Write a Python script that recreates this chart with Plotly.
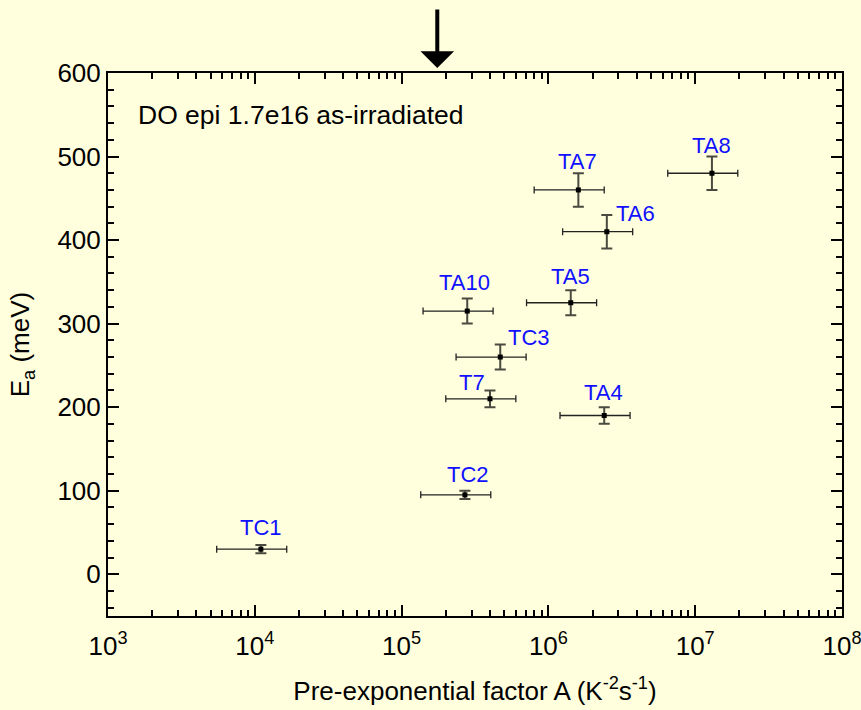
import numpy as np
import plotly.graph_objects as go

# ---- data ----
labels = ["TC1", "TC2", "T7", "TC3", "TA10", "TA5", "TA4", "TA6", "TA7", "TA8"]
A_vals = [1.1e4, 2.7e5, 4.0e5, 4.7e5, 2.8e5, 1.42e6, 2.4e6, 2.5e6, 1.6e6, 1.3e7]
A_err = [5.5e3, 1.35e5, 2.0e5, 2.35e5, 1.4e5, 7.1e5, 1.2e6, 1.25e6, 8.0e5, 6.5e6]
Ea_vals = [30, 95, 210, 260, 315, 325, 190, 410, 460, 480]
Ea_err = [5, 5, 10, 15, 15, 15, 10, 20, 20, 20]
arrow_A = 1.75e5
x_tick_exps = [3, 4, 5, 6, 7, 8]
y_ticks = [0, 100, 200, 300, 400, 500, 600]

# label offsets (px, relative to point) - styling
label_dx = [0, 3, -18, 29, -3, 0, -1, 29, -1, 0]
label_dy = [22, 20, 16, 20, 29, 26, 23, 18, 28, 28]

BG = "#FFFFDD"
FONT = "Liberation Sans, Arial, sans-serif"

fig = go.Figure()
fig.add_trace(go.Scatter(
    x=A_vals, y=Ea_vals, mode="markers",
    marker=dict(symbol="square", size=5, color="black"),
    error_x=dict(type="data", array=A_err, color="#222222", thickness=1.3, width=3.5),
    error_y=dict(type="data", array=Ea_err, color="#4a4a40", thickness=2, width=5.5),
    showlegend=False, hoverinfo="skip",
))

for lab, a, e, dx, dy in zip(labels, A_vals, Ea_vals, label_dx, label_dy):
    fig.add_annotation(x=np.log10(a), y=e, xref="x", yref="y", text=lab,
                       showarrow=False, xshift=dx, yshift=dy,
                       font=dict(family=FONT, size=22, color="#1010FF"))

fig.add_annotation(x=0.038, y=0.9227, xref="paper", yref="paper",
                   text="DO epi 1.7e16 as-irradiated", showarrow=False,
                   xanchor="left", yanchor="middle",
                   font=dict(family=FONT, size=26.5, color="black"))

fig.add_annotation(x=np.log10(arrow_A), y=1, xref="x", yref="paper", yshift=5,
                   text="", showarrow=True, ax=0, ay=-60,
                   arrowhead=1, arrowsize=1.4, arrowwidth=4, arrowcolor="black")

minor_x = [m * 10 ** k for k in range(3, 8) for m in range(2, 10)]

axis_common = dict(showgrid=False, zeroline=False, showline=True, linecolor="black",
                   linewidth=2, mirror="allticks", ticks="inside", ticklen=11,
                   tickwidth=2, tickcolor="black", automargin=False,
                   ticklabeloverflow="allow",
                   tickfont=dict(family=FONT, size=26, color="black"))

fig.update_xaxes(type="log", range=[3, 8],
                 tickvals=[10 ** k for k in x_tick_exps],
                 ticktext=[f"10<sup>{k}</sup>" for k in x_tick_exps],
                 ticklabelstandoff=6,
                 minor=dict(tickvals=minor_x, ticks="inside", ticklen=6, tickwidth=2,
                            tickcolor="black", showgrid=False),
                 title=dict(text="Pre-exponential factor A (K<sup>-2</sup>s<sup>-1</sup>)",
                            font=dict(family=FONT, size=26, color="black"), standoff=22),
                 **axis_common)
fig.update_yaxes(range=[-50, 600], tickvals=y_ticks,
                 minor=dict(dtick=20, tick0=0, ticks="inside", ticklen=6, tickwidth=2,
                            tickcolor="black", showgrid=False),
                 title=dict(text="E<sub>a</sub> (meV)",
                            font=dict(family=FONT, size=26, color="black"), standoff=20),
                 **axis_common)

fig.update_layout(width=861, height=710, margin=dict(l=108, r=19, t=73, b=94),
                  paper_bgcolor=BG, plot_bgcolor=BG)

fig.write_html("out.html")
